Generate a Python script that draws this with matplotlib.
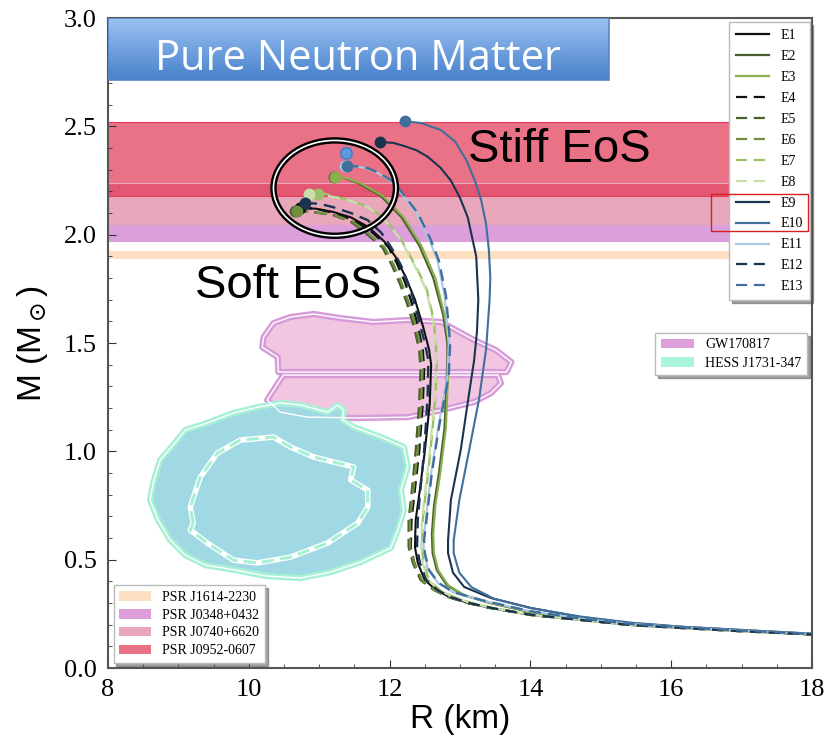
import numpy as np
import matplotlib
matplotlib.use("Agg")
import matplotlib.pyplot as plt
from matplotlib.patches import Polygon, Ellipse, Rectangle, Patch
from matplotlib.lines import Line2D
from matplotlib.ticker import MultipleLocator, FormatStrFormatter

# ---------------- data ----------------
eos_names = ["E1", "E2", "E3", "E4", "E5", "E6", "E7", "E8", "E9", "E10", "E11", "E12", "E13"]
eos_colors = ["#111111", "#4b5e2e", "#8ab04e", "#111111", "#4b5e2e", "#6f8f3f", "#9cc068",
              "#c9deaa", "#1a3450", "#3f6f9a", "#a9c8e4", "#1a3450", "#3f6f9a"]
eos_dashed = [False, False, False, True, True, True, True, True, False, False, False, True, True]

M_soft = [2.11, 2.105, 2.09, 2.06, 2.01, 1.94, 1.86, 1.77, 1.68, 1.57, 1.47, 1.38, 1.22, 1.00, 0.80,
          0.683, 0.558, 0.485, 0.406, 0.36, 0.328, 0.30, 0.277, 0.245, 0.222, 0.198, 0.185, 0.17, 0.155]
R_E5 = [10.66, 10.90, 11.20, 11.45, 11.65, 11.90, 12.03, 12.15, 12.25, 12.35, 12.42, 12.44, 12.42, 12.37,
        12.31, 12.27, 12.27, 12.33, 12.44, 12.63, 12.83, 13.11, 13.44, 14.01, 14.72, 15.44, 16.15, 17.0, 18.0]
R_E6 = [10.68, 10.92, 11.22, 11.48, 11.68, 11.93, 12.06, 12.18, 12.28, 12.38, 12.45, 12.47, 12.45, 12.40,
        12.33, 12.29, 12.29, 12.35, 12.46, 12.64, 12.84, 13.11, 13.44, 14.01, 14.72, 15.44, 16.15, 17.0, 18.0]
R_E4 = [10.73, 10.95, 11.22, 11.50, 11.72, 11.98, 12.10, 12.22, 12.31, 12.40, 12.47, 12.49, 12.47, 12.42,
        12.35, 12.31, 12.30, 12.35, 12.45, 12.64, 12.84, 13.11, 13.44, 14.01, 14.72, 15.44, 16.15, 17.0, 18.0]
M_E4 = [2.124, 2.12, 2.10, 2.065, 2.02, 1.945, 1.87, 1.78, 1.69, 1.58, 1.47, 1.38, 1.22, 1.00, 0.80,
        0.683, 0.558, 0.485, 0.406, 0.36, 0.328, 0.30, 0.277, 0.245, 0.222, 0.198, 0.185, 0.17, 0.155]

R_E1 = [10.73, 10.95, 11.20, 11.45, 11.70, 11.92, 12.08, 12.22, 12.36, 12.48, 12.56, 12.59, 12.57, 12.50,
        12.42, 12.37, 12.36, 12.40, 12.50, 12.66, 12.85, 13.12, 13.44, 14.01, 14.72, 15.44, 16.15, 17.0, 18.0]
M_E1 = [2.124, 2.12, 2.105, 2.08, 2.035, 1.97, 1.90, 1.81, 1.70, 1.57, 1.47, 1.40, 1.22, 1.00, 0.80,
        0.683, 0.558, 0.485, 0.406, 0.36, 0.328, 0.30, 0.277, 0.245, 0.222, 0.198, 0.185, 0.17, 0.155]

R_E12 = [10.80, 11.00, 11.20, 11.45, 11.69, 11.88, 12.02, 12.16, 12.30, 12.42, 12.50, 12.55, 12.54, 12.49,
         12.43, 12.40, 12.39, 12.43, 12.52, 12.68, 12.86, 13.13, 13.45, 14.02, 14.72, 15.44, 16.15, 17.0, 18.0]
M_E12 = [2.146, 2.143, 2.127, 2.10, 2.067, 2.01, 1.943, 1.86, 1.744, 1.60, 1.50, 1.42, 1.25, 1.00, 0.80,
         0.683, 0.558, 0.485, 0.406, 0.36, 0.328, 0.30, 0.277, 0.245, 0.222, 0.198, 0.185, 0.17, 0.155]

R_E7 = [10.98, 11.10, 11.25, 11.48, 11.70, 11.89, 12.03, 12.16, 12.27, 12.41, 12.53, 12.63, 12.67, 12.65,
        12.58, 12.51, 12.47, 12.46, 12.48, 12.56, 12.71, 12.91, 13.17, 13.47, 14.02, 14.72, 15.44, 16.15, 17.0, 18.0]
R_E8 = [10.86, 11.00, 11.20, 11.45, 11.69, 11.88, 12.02, 12.15, 12.26, 12.40, 12.52, 12.62, 12.66, 12.64,
        12.57, 12.50, 12.46, 12.45, 12.47, 12.55, 12.70, 12.90, 13.16, 13.46, 14.02, 14.72, 15.44, 16.15, 17.0, 18.0]
M_E7 = [2.19, 2.188, 2.174, 2.155, 2.127, 2.085, 2.035, 1.98, 1.915, 1.83, 1.744, 1.60, 1.42, 1.25, 1.00,
        0.80, 0.683, 0.558, 0.485, 0.406, 0.36, 0.328, 0.30, 0.277, 0.245, 0.222, 0.198, 0.185, 0.17, 0.155]

R_E3 = [11.23, 11.40, 11.60, 11.90, 12.20, 12.45, 12.65, 12.78, 12.84, 12.84, 12.80, 12.72, 12.65, 12.62,
        12.63, 12.69, 12.83, 13.06, 13.44, 14.01, 14.72, 15.44, 16.15, 17.0, 18.0]
R_E2 = [11.21, 11.38, 11.57, 11.87, 12.17, 12.42, 12.62, 12.76, 12.82, 12.82, 12.78, 12.70, 12.63, 12.60,
        12.61, 12.67, 12.81, 13.04, 13.42, 14.00, 14.72, 15.44, 16.15, 17.0, 18.0]
M_E3 = [2.266, 2.260, 2.235, 2.18, 2.08, 1.95, 1.80, 1.63, 1.50, 1.42, 1.11, 0.90, 0.75, 0.62,
        0.53, 0.452, 0.383, 0.337, 0.30, 0.258, 0.226, 0.202, 0.187, 0.172, 0.157]

R_E13 = [11.39, 11.55, 11.69, 11.85, 12.06, 12.40, 12.58, 12.70, 12.80, 12.86, 12.84, 12.70, 12.60, 12.54,
         12.49, 12.50, 12.56, 12.70, 12.91, 13.30, 14.00, 14.72, 15.44, 16.15, 17.0, 18.0]
R_E11 = [11.37, 11.53, 11.67, 11.83, 12.04, 12.38, 12.56, 12.68, 12.78, 12.84, 12.82, 12.69, 12.59, 12.53,
         12.48, 12.49, 12.55, 12.69, 12.90, 13.29, 14.00, 14.72, 15.44, 16.15, 17.0, 18.0]
M_E13 = [2.317, 2.315, 2.307, 2.285, 2.243, 2.10, 1.98, 1.88, 1.72, 1.50, 1.35, 1.11, 0.90, 0.73,
         0.59, 0.53, 0.452, 0.392, 0.35, 0.314, 0.262, 0.228, 0.203, 0.188, 0.173, 0.157]

R_E9 = [11.87, 12.05, 12.20, 12.38, 12.54, 12.72, 12.87, 13.00, 13.11, 13.23, 13.26, 13.24, 13.20, 13.13,
        13.01, 12.87, 12.83, 12.83, 12.90, 13.06, 13.44, 14.01, 14.72, 15.44, 16.15, 17.0, 18.0]
M_E9 = [2.427, 2.424, 2.41, 2.39, 2.36, 2.31, 2.25, 2.17, 2.08, 1.90, 1.70, 1.55, 1.42, 1.27,
        1.006, 0.775, 0.59, 0.53, 0.44, 0.374, 0.323, 0.277, 0.235, 0.207, 0.19, 0.175, 0.158]

R_E10 = [12.22, 12.45, 12.73, 12.93, 13.09, 13.21, 13.30, 13.37, 13.41, 13.43, 13.42, 13.37, 13.27, 13.13,
         12.99, 12.91, 12.91, 12.99, 13.16, 13.48, 14.00, 14.72, 15.44, 16.15, 17.0, 18.0]
M_E10 = [2.524, 2.515, 2.483, 2.43, 2.344, 2.25, 2.16, 2.05, 1.93, 1.80, 1.70, 1.47, 1.24, 1.006,
         0.775, 0.59, 0.53, 0.44, 0.374, 0.32, 0.277, 0.237, 0.209, 0.191, 0.176, 0.159]

eos_R = [R_E1, R_E2, R_E3, R_E4, R_E5, R_E6, R_E7, R_E8, R_E9, R_E10, R_E11, R_E12, R_E13]
eos_M = [M_E1, M_E3, M_E3, M_E4, M_soft, M_soft, M_E7, M_E7, M_E9, M_E10, M_E13, M_E12, M_E13]

highlight_R = [11.38]
highlight_M = [2.375]

psr_names = ["PSR J1614-2230", "PSR J0348+0432", "PSR J0740+6620", "PSR J0952-0607"]
psr_low = [1.892, 1.97, 2.05, 2.18]
psr_high = [1.924, 2.05, 2.24, 2.52]
psr_colors = ["#fde0c2", "#dc9fdc", "#e8a7bb", "#e0304f"]
psr_alpha = [1.0, 1.0, 1.0, 0.68]

gw_up_R = [10.42, 10.41, 10.19, 10.21, 10.35, 10.59, 10.92, 11.30, 11.77, 12.26, 12.73, 13.20, 13.51, 13.73, 13.66]
gw_up_M = [1.366, 1.435, 1.481, 1.527, 1.592, 1.620, 1.634, 1.615, 1.597, 1.606, 1.597, 1.514, 1.467, 1.412, 1.366]
gw_lo_R = [10.49, 10.26, 10.45, 10.83, 11.55, 12.26, 12.73, 13.20, 13.44, 13.58, 13.54]
gw_lo_M = [1.352, 1.237, 1.181, 1.158, 1.154, 1.158, 1.190, 1.228, 1.269, 1.315, 1.352]

hess_out_R = [8.641, 8.741, 8.926, 9.097, 9.410, 9.781, 10.123, 10.450, 10.735, 11.120, 11.262, 11.348,
              11.333, 11.490, 11.875, 12.202, 12.259, 12.160, 12.202, 12.117, 12.017, 11.590, 11.162,
              10.735, 10.236, 9.809, 9.382, 9.097, 8.883, 8.712, 8.598]
hess_out_M = [0.854, 0.960, 1.029, 1.098, 1.131, 1.177, 1.204, 1.223, 1.214, 1.181, 1.214, 1.191,
              1.144, 1.112, 1.066, 1.020, 0.928, 0.821, 0.729, 0.637, 0.554, 0.489, 0.443,
              0.415, 0.425, 0.452, 0.475, 0.521, 0.591, 0.683, 0.775]
hess_in_R = [9.211, 9.168, 9.311, 9.553, 9.880, 10.350, 10.593, 10.920, 11.490, 11.447, 11.689, 11.689,
             11.547, 11.120, 10.593, 10.123, 9.781, 9.410, 9.168]
hess_in_M = [0.669, 0.743, 0.881, 0.992, 1.052, 1.066, 1.020, 0.974, 0.928, 0.868, 0.821, 0.743,
             0.669, 0.577, 0.512, 0.485, 0.498, 0.577, 0.637]

# ---------------- figure ----------------
serif = ["Liberation Serif", "DejaVu Serif"]
sans = ["Liberation Sans", "DejaVu Sans"]

fig = plt.figure(figsize=(8.27, 7.42), dpi=100)
ax = fig.add_axes([0.1306, 0.0997, 0.8513, 0.876])

# PSR bands
for lo, hi, c, a in zip(psr_low, psr_high, psr_colors, psr_alpha):
    ax.axhspan(lo, hi, facecolor=c, alpha=a, edgecolor="none", zorder=0.5)
    ax.axhline(lo, color=c, lw=0.8, alpha=min(1, a + 0.2), zorder=0.6)
    ax.axhline(hi, color=c, lw=0.8, alpha=min(1, a + 0.2), zorder=0.6)

# GW170817 blob
for Rs, Ms in [(gw_up_R, gw_up_M), (gw_lo_R, gw_lo_M)]:
    pts = np.column_stack([Rs, Ms])
    ax.add_patch(Polygon(pts, closed=True, facecolor="#f2c6e0", edgecolor="#d79bd9", lw=4.5,
                         joinstyle="round", zorder=1))
    ax.add_patch(Polygon(pts, closed=True, facecolor="none", edgecolor="white", lw=1.0,
                         joinstyle="round", zorder=1.1))

# HESS blob
pts = np.column_stack([hess_out_R, hess_out_M])
ax.add_patch(Polygon(pts, closed=True, facecolor="#a0d8e3", edgecolor="#a6f0d6", lw=4.5,
                     joinstyle="round", zorder=1))
ax.add_patch(Polygon(pts, closed=True, facecolor="none", edgecolor="white", lw=1.0,
                     joinstyle="round", zorder=1.1))
pts = np.column_stack([hess_in_R, hess_in_M])
ax.add_patch(Polygon(pts, closed=True, facecolor="none", edgecolor="white", lw=4.0,
                     joinstyle="round", zorder=1.2))
ax.add_patch(Polygon(pts, closed=True, facecolor="none", edgecolor="#a6f0d6", lw=2.2,
                     linestyle=(0, (4, 2)), joinstyle="round", zorder=1.3))

# EoS curves
handles = []
for name, R, M, c, d in zip(eos_names, eos_R, eos_M, eos_colors, eos_dashed):
    ls = (0, (5, 3)) if d else "-"
    lw = 1.7 if d else 1.5
    ax.plot(R, M, color=c, ls=ls, lw=lw, zorder=3, solid_joinstyle="round")
    ax.plot(R[0], M[0], "o", color=c, ms=7.5, mec=c, zorder=4)
    handles.append(Line2D([], [], color=c, ls=ls, lw=1.6, label=name))

ax.plot(highlight_R, highlight_M, "o", color="#4f8fd8", ms=11, alpha=0.35, mec="none", zorder=4)
ax.plot(highlight_R, highlight_M, "o", color="#5d9be0", ms=8, mec="#3d78c0", mew=0.8, zorder=4.1)

# ellipse annotation
ell_kw = dict(xy=(11.22, 2.215), width=1.74, height=0.44, angle=0, fill=False, zorder=5)
ax.add_patch(Ellipse(edgecolor="black", lw=4.6, **ell_kw))
ax.add_patch(Ellipse(edgecolor="white", lw=1.2, **ell_kw))

# texts
ax.text(13.11, 2.335, "Stiff EoS", fontsize=34, family=sans, ha="left", va="baseline", zorder=6)
ax.text(9.24, 1.707, "Soft EoS", fontsize=34, family=sans, ha="left", va="baseline", zorder=6)

# title box
grad = np.linspace(0, 1, 64).reshape(-1, 1)
top = np.array([0x9c, 0xc2, 0xf3]) / 255
bot = np.array([0x48, 0x82, 0xcb]) / 255
img = top[None, None, :] * (1 - grad[:, :, None]) + bot[None, None, :] * grad[:, :, None]
ax.imshow(img, extent=[8.0, 15.11, 2.713, 3.0], aspect="auto", origin="upper", zorder=7)
ax.add_patch(Rectangle((8.0, 2.713), 7.11, 0.287, fill=False, edgecolor="#5a86bf", lw=1.2, zorder=7.1))
ax.text(11.55, 2.762, "Pure Neutron Matter", color="white", fontsize=30,
        family=["Open Sans", "DejaVu Sans"], ha="center", va="baseline", zorder=7.2)

ax.set_xlim(8, 18)
ax.set_ylim(0, 3.0)

# axes styling
for s in ax.spines.values():
    s.set_color("#555555")
    s.set_linewidth(1.5)
ax.xaxis.set_major_locator(MultipleLocator(2))
ax.xaxis.set_minor_locator(MultipleLocator(0.5))
ax.yaxis.set_major_locator(MultipleLocator(0.5))
ax.yaxis.set_minor_locator(MultipleLocator(0.1))
ax.yaxis.set_major_formatter(FormatStrFormatter("%.1f"))
ax.tick_params(which="both", direction="in", top=False, right=False, colors="#333333")
ax.tick_params(which="major", length=6, labelsize=19, pad=8)
ax.tick_params(which="minor", length=3)
for lab in ax.get_xticklabels() + ax.get_yticklabels():
    lab.set_family(serif)
    lab.set_color("black")

ax.set_xlabel("R (km)", fontsize=24, family=sans, labelpad=2)
ax.set_ylabel(r"M (M$_\odot$)", fontsize=24, family=sans, labelpad=10)

# legends
leg1 = ax.legend(handles=handles, loc="upper right", bbox_to_anchor=(0.997, 0.9935),
                 prop={"family": serif, "size": 10}, frameon=True, shadow=True, fancybox=False,
                 handlelength=2.4, labelspacing=0.57, borderpad=0.5, borderaxespad=0,
                 edgecolor="#bbbbbb")
leg1.set_zorder(10)
ax.add_artist(leg1)

hh2 = [Patch(facecolor="#dda0dd", edgecolor="none", label="GW170817"),
       Patch(facecolor="#a8f5dc", edgecolor="none", label="HESS J1731-347")]
leg2 = ax.legend(handles=hh2, loc="center right", bbox_to_anchor=(0.993, 0.483),
                 prop={"family": serif, "size": 10}, frameon=True, shadow=True, fancybox=False,
                 handlelength=2.4, labelspacing=0.4, borderaxespad=0, edgecolor="#bbbbbb")
leg2.set_zorder(10)
ax.add_artist(leg2)

hh3 = [Patch(facecolor=c, alpha=a if a < 1 else 1.0, edgecolor="none", label=n)
       for n, c, a in zip(psr_names, psr_colors, psr_alpha)]
leg3 = ax.legend(handles=hh3, loc="lower left", bbox_to_anchor=(0.008, 0.008),
                 prop={"family": serif, "size": 10}, frameon=True, shadow=True, fancybox=False,
                 handlelength=2.3, labelspacing=0.35, borderaxespad=0, edgecolor="#bbbbbb")
leg3.set_zorder(10)

# red highlight box around E9/E10 legend entries
ax.add_patch(Rectangle((0.857, 0.672), 0.137, 0.057, transform=ax.transAxes, fill=False,
                       edgecolor="#d42020", lw=1.0, zorder=11))

fig.savefig("out.png", dpi=100)
